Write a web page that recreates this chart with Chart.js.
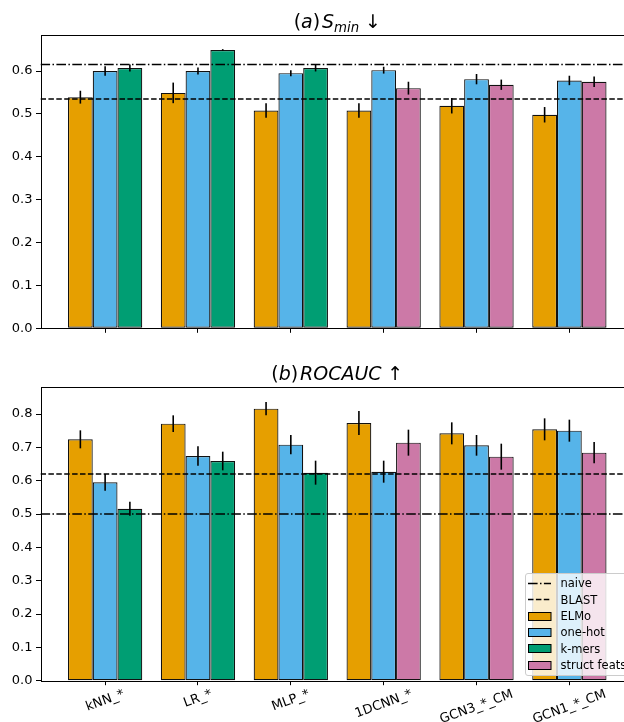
<!DOCTYPE html>
<html>
<head>
<meta charset="utf-8">
<script src="https://cdn.jsdelivr.net/npm/chart.js@4.4.1/dist/chart.umd.min.js"></script>
<style>
html, body { margin: 0; padding: 0; background: #fff; }
#fig { position: relative; width: 624px; height: 722px; overflow: hidden; }
#top { position: absolute; left: 0; top: 0; }
#bottom { position: absolute; left: 0; top: 345px; }
#legend {
    position: absolute; left: 525px; top: 573px; width: 120px; height: 103px;
    border: 1px solid #ccc; border-radius: 3px; background: rgba(255,255,255,0.8);
    box-sizing: border-box; font: 11.5px 'DejaVu Sans', sans-serif; color: #000;
}
#legend .row { position: absolute; left: 0; height: 16px; line-height: 16px; white-space: nowrap; }
#legend svg { position: absolute; left: 2px; top: 3.5px; }
#legend span { position: absolute; left: 34.5px; top: 0; }
</style>
</head>
<body>
<div id="fig">
    <canvas id="top" width="640" height="345"></canvas>
    <canvas id="bottom" width="640" height="377"></canvas>
    <div id="legend"></div>
</div>
<script>
// categories (x axis)
const categories = ["kNN_*", "LR_*", "MLP_*", "1DCNN_*", "GCN3_*_CM", "GCN1_*_CM"];

// (a) S_min
const sminElmo      = [0.539, 0.549, 0.508, 0.508, 0.519, 0.498];
const sminElmoErr   = [0.015, 0.024, 0.017, 0.017, 0.018, 0.018];
const sminOnehot    = [0.600, 0.600, 0.595, 0.602, 0.581, 0.578];
const sminOnehotErr = [0.011, 0.008, 0.007, 0.008, 0.012, 0.011];
const sminKmers     = [0.607, 0.649, 0.607, null, null, null];
const sminKmersErr  = [0.008, 0.002, 0.008, null, null, null];
const sminStruct    = [null, null, null, 0.560, 0.568, 0.575];
const sminStructErr = [null, null, null, 0.015, 0.012, 0.012];
const sminNaive = 0.615;
const sminBlast = 0.535;

// (b) ROCAUC
const aucElmo      = [0.724, 0.771, 0.816, 0.773, 0.742, 0.754];
const aucElmoErr   = [0.027, 0.025, 0.020, 0.036, 0.033, 0.033];
const aucOnehot    = [0.595, 0.674, 0.708, 0.627, 0.706, 0.750];
const aucOnehotErr = [0.025, 0.029, 0.029, 0.033, 0.031, 0.033];
const aucKmers     = [0.516, 0.659, 0.624, null, null, null];
const aucKmersErr  = [0.021, 0.028, 0.036, null, null, null];
const aucStruct    = [null, null, null, 0.714, 0.672, 0.684];
const aucStructErr = [null, null, null, 0.039, 0.039, 0.032];
const aucNaive = 0.500;
const aucBlast = 0.620;

const seriesNames  = ["ELMo", "one-hot", "k-mers", "struct feats"];
const seriesColors = ["#E69F00", "#56B4E9", "#009E73", "#CC79A7"];
const refNames = ["naive", "BLAST"];

const X_MIN = -0.696, X_MAX = 5.696;
const DASHDOT = [9.6, 2.4, 1.5, 2.4];
const DASHED = [5.5, 2.4];

function bars(k, vals, errs) {
    return {
        type: 'bar',
        label: seriesNames[k],
        data: vals.map((v, i) => ({x: i, y: v})),
        errors: errs,
        backgroundColor: seriesColors[k],
        borderColor: '#111',
        borderWidth: 1.2,
        borderSkipped: false,
        categoryPercentage: 0.8,
        barPercentage: 1.0,
        skipNull: true,
        order: 1
    };
}

function refLine(label, v, dash) {
    return {
        type: 'line',
        label: label,
        data: [{x: X_MIN, y: v}, {x: X_MAX, y: v}],
        borderColor: '#000',
        borderWidth: 1.5,
        borderDash: dash,
        borderCapStyle: 'butt',
        pointRadius: 0,
        fill: false,
        order: 0
    };
}

// error bars on top of each bar
const errorBars = {
    id: 'errorBars',
    afterDatasetsDraw(chart) {
        const ctx = chart.ctx, ys = chart.scales.y;
        chart.data.datasets.forEach((ds, i) => {
            if (!ds.errors) return;
            const meta = chart.getDatasetMeta(i);
            meta.data.forEach((bar, j) => {
                const v = ds.data[j].y, e = ds.errors[j];
                if (v == null || e == null) return;
                ctx.save();
                ctx.strokeStyle = '#000';
                ctx.lineWidth = 1.6;
                ctx.beginPath();
                ctx.moveTo(bar.x, ys.getPixelForValue(v - e));
                ctx.lineTo(bar.x, ys.getPixelForValue(v + e));
                ctx.stroke();
                ctx.restore();
            });
        });
    }
};

// axes box
const frame = {
    id: 'frame',
    afterDatasetsDraw(chart) {
        const a = chart.chartArea, ctx = chart.ctx;
        ctx.save();
        ctx.strokeStyle = '#000';
        ctx.lineWidth = 1;
        ctx.strokeRect(Math.round(a.left) + 0.5, Math.round(a.top) + 0.5,
                       Math.round(a.right - a.left), Math.round(a.bottom - a.top));
        ctx.restore();
    }
};

// title with italic / subscript pieces
function mathTitle(segs, baseline) {
    return {
        id: 'mathTitle',
        afterDraw(chart) {
            const ctx = chart.ctx, size = 19;
            let total = 0;
            ctx.save();
            segs.forEach(s => {
                s.font = (s.it ? 'italic ' : '') + (s.sub ? size * 0.7 : size) + "px 'DejaVu Sans'";
                ctx.font = s.font;
                s.w = ctx.measureText(s.t).width + (s.gap || 0) * size;
                total += s.w;
            });
            let x = (chart.chartArea.left + chart.chartArea.right) / 2 - total / 2;
            ctx.fillStyle = '#000';
            ctx.textAlign = 'left';
            ctx.textBaseline = 'alphabetic';
            segs.forEach(s => {
                ctx.font = s.font;
                ctx.fillText(s.t, x, baseline + (s.sub ? size * 0.22 : 0));
                x += s.w;
            });
            ctx.restore();
        }
    };
}

// rotated x tick labels, centred under each tick
const xLabels = {
    id: 'xLabels',
    afterDraw(chart) {
        const ctx = chart.ctx, xs = chart.scales.x, a = chart.chartArea;
        const ang = 20 * Math.PI / 180;
        ctx.save();
        ctx.font = "13px 'DejaVu Sans'";
        ctx.fillStyle = '#000';
        ctx.textAlign = 'center';
        ctx.textBaseline = 'middle';
        categories.forEach((c, i) => {
            const w = ctx.measureText(c).width;
            const cy = a.bottom + 8 + (w * Math.sin(ang) + 11 * Math.cos(ang)) / 2;
            ctx.save();
            ctx.translate(xs.getPixelForValue(i), cy);
            ctx.rotate(-ang);
            ctx.fillText(c, 0, 0);
            ctx.restore();
        });
        ctx.restore();
    }
};

function makeScales(yMax, xHeight) {
    const tickGrid = {drawOnChartArea: false, drawTicks: true, tickLength: 4.5, tickColor: '#000', lineWidth: 1, offset: false};
    return {
        x: {
            type: 'linear', min: X_MIN, max: X_MAX, offset: false,
            ticks: {display: false, stepSize: 1, includeBounds: false},
            grid: tickGrid,
            border: {display: false},
            afterFit(s) { s.height = xHeight; }
        },
        y: {
            min: 0, max: yMax,
            ticks: {
                stepSize: 0.1, includeBounds: false, padding: 3.5, color: '#000',
                font: {family: 'DejaVu Sans', size: 13},
                callback: v => v.toFixed(1)
            },
            grid: tickGrid,
            border: {display: false},
            afterFit(s) { s.width = 40.5; }
        }
    };
}

const commonPlugins = {legend: {display: false}, tooltip: {enabled: false}, title: {display: false}};

new Chart(document.getElementById("top"), {
    type: 'bar',
    data: {
        datasets: [
            refLine(refNames[0], sminNaive, DASHDOT),
            refLine(refNames[1], sminBlast, DASHED),
            bars(0, sminElmo, sminElmoErr),
            bars(1, sminOnehot, sminOnehotErr),
            bars(2, sminKmers, sminKmersErr),
            bars(3, sminStruct, sminStructErr)
        ]
    },
    options: {
        responsive: false,
        animation: false,
        layout: {padding: {top: 35, right: 6, left: 0, bottom: 0}},
        scales: makeScales(0.684, 16.7),
        plugins: commonPlugins
    },
    plugins: [errorBars, frame, mathTitle([
        {t: '('}, {t: 'a', it: 1}, {t: ')', gap: 0.1},
        {t: 'S', it: 1}, {t: 'min', it: 1, sub: 1, gap: 0.3}, {t: '\u2193'}
    ], 27.5)]
});

new Chart(document.getElementById("bottom"), {
    type: 'bar',
    data: {
        datasets: [
            refLine(refNames[0], aucNaive, DASHDOT),
            refLine(refNames[1], aucBlast, DASHED),
            bars(0, aucElmo, aucElmoErr),
            bars(1, aucOnehot, aucOnehotErr),
            bars(2, aucKmers, aucKmersErr),
            bars(3, aucStruct, aucStructErr)
        ]
    },
    options: {
        responsive: false,
        animation: false,
        layout: {padding: {top: 42, right: 6, left: 0, bottom: 0}},
        scales: makeScales(0.881, 41.3),
        plugins: commonPlugins
    },
    plugins: [errorBars, frame, xLabels, mathTitle([
        {t: '('}, {t: 'b', it: 1}, {t: ')', gap: 0.1},
        {t: 'ROCAUC', it: 1, gap: 0.3}, {t: '\u2191'}
    ], 35)]
});

// legend (inside lower right of the bottom axes)
const legend = document.getElementById("legend");
const rows = [
    {name: refNames[0], dash: DASHDOT},
    {name: refNames[1], dash: DASHED}
].concat(seriesNames.map((n, k) => ({name: n, color: seriesColors[k]})));
rows.forEach((r, i) => {
    const row = document.createElement('div');
    row.className = 'row';
    row.style.top = (9.3 + i * 16.35 - 8) + 'px';
    const handle = r.dash
        ? '<svg width="24" height="9"><line x1="0" y1="4.5" x2="23" y2="4.5" stroke="#000" stroke-width="1.5" stroke-dasharray="' + r.dash.join(' ') + '"/></svg>'
        : '<svg width="24" height="9"><rect x="0.5" y="0.5" width="22.5" height="8" fill="' + r.color + '" stroke="#000" stroke-width="1"/></svg>';
    row.innerHTML = handle + '<span>' + r.name + '</span>';
    legend.appendChild(row);
});
</script>
</body>
</html>
